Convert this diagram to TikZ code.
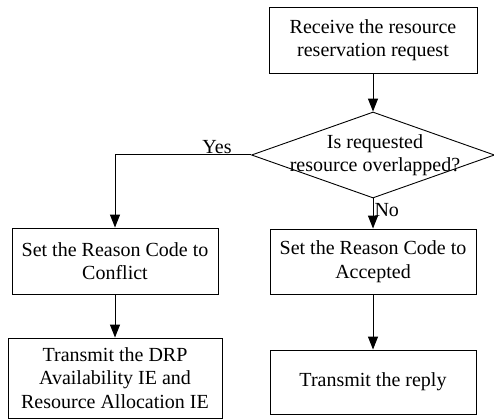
\documentclass[tikz,border=0pt]{standalone}
\usepackage{fontspec}
\setmainfont{Liberation Serif}
\newfontfamily\figfont{Liberation Serif}
\usetikzlibrary{arrows.meta,shapes.geometric}
\begin{document}
\begin{tikzpicture}[x=1pt,y=1pt,
  font=\figfont\fontsize{20}{23.5}\selectfont,
  box/.style={draw,line width=0.9pt,rectangle,inner sep=0pt,align=center},
  arr/.style={line width=1pt,-{Triangle[length=13pt,width=10pt]}},
  lbl/.style={inner sep=1pt}]
\useasboundingbox (0,0) rectangle (494,-419);
\node[box,minimum width=208,minimum height=66] (recv) at (373,-40) {Receive the resource\\reservation request};
\node[draw,line width=0.9pt,diamond,inner sep=0pt,minimum width=243,minimum height=86] (dec) at (373,-155) {};
\node[align=center,inner sep=0pt] (dectext) at (375,-155) {Is requested\\resource overlapped?};
\node[box,minimum width=206,minimum height=66] (conf) at (115,-261) {Set the Reason Code to\\Conflict};
\node[box,minimum width=214,minimum height=80] (tdrp) at (115,-378) {Transmit the DRP\\Availability IE and\\Resource Allocation IE};
\node[box,minimum width=206,minimum height=65] (acc) at (373,-261.5) {Set the Reason Code to\\Accepted};
\node[box,minimum width=206,minimum height=64] (reply) at (373,-382) {Transmit the reply};
\coordinate (corner) at (115,-155);
\draw[arr] (recv.south) -- (dec.north);
\draw[arr] (dec.south) -- node[lbl,right,pos=0.4] (no) {No} (acc.north);
\draw[arr] (dec.west) -- node[lbl,above,pos=0.25] (yes) {Yes} (corner) -- (conf.north);
\draw[arr] (conf.south) -- (tdrp.north);
\draw[arr] (acc.south) -- (reply.north);
\end{tikzpicture}
\end{document}
